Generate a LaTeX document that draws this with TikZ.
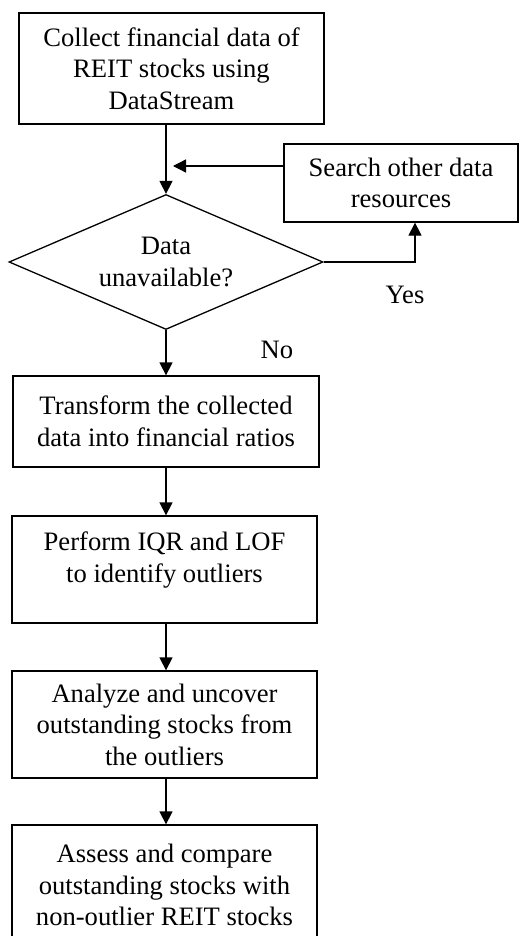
\documentclass[tikz,border=0pt]{standalone}
\usepackage{fontspec}
\setmainfont{Liberation Serif}
\usetikzlibrary{shapes.geometric,arrows.meta}
\begin{document}
\begin{tikzpicture}[x=1pt,y=-1pt,
  every node/.style={font=\fontsize{26.6}{31.5}\selectfont, align=center, inner sep=0pt},
  stepbox/.style={draw, line width=1.3pt, rectangle},
  decision/.style={draw, line width=1.3pt, diamond},
  arr/.style={line width=1.3pt, -{Triangle[length=13pt,width=13pt]}},
  lbl/.style={}]
\useasboundingbox (0,0) rectangle (523,936);
\fill[white] (0,0) rectangle (523,936);
\node[stepbox, minimum width=305pt, minimum height=111pt] (b1) at (171.5,68.5)
  {Collect financial data of\\REIT stocks using\\DataStream};
\node[stepbox, minimum width=234pt, minimum height=78pt] (sea) at (401,183)
  {Search other data\\resources};
\node[decision, minimum width=314pt, minimum height=135pt, aspect=2.33] (dia) at (166,262)
  {Data\\unavailable?};
\node[stepbox, minimum width=306pt, minimum height=91pt] (b2) at (166,421.5)
  {Transform the collected\\data into financial ratios};
\node[stepbox, minimum width=305pt, minimum height=107pt] (b3) at (164.5,569.5) {};
\node (t3) at (164.5,560) {Perform IQR and LOF\\to identify outliers};
\node[stepbox, minimum width=305pt, minimum height=107pt] (b4) at (164.5,724.5)
  {Analyze and uncover\\outstanding stocks from\\the outliers};
\node[stepbox, minimum width=305pt, minimum height=120pt] (b5) at (164.5,885)
  {Assess and compare\\outstanding stocks with\\non-outlier REIT stocks};
\node[lbl] (yes) at (405,295) {Yes};
\node[lbl] (no) at (277,350) {No};
\coordinate (merge) at (173,166);
\draw[arr] (b1.south -| dia.north) -- (dia.north);
\draw[arr] ([yshift=17pt]sea.west) -- (merge);
\draw[arr] (dia.east) -| ([xshift=14pt]sea.south);
\draw[arr] (dia.south) -- (dia.south |- b2.north);
\draw[arr] (b2.south -| dia.south) -- (b3.north -| dia.south);
\draw[arr] (b3.south -| dia.south) -- (b4.north -| dia.south);
\draw[arr] (b4.south -| dia.south) -- (b5.north -| dia.south);
\end{tikzpicture}
\end{document}
